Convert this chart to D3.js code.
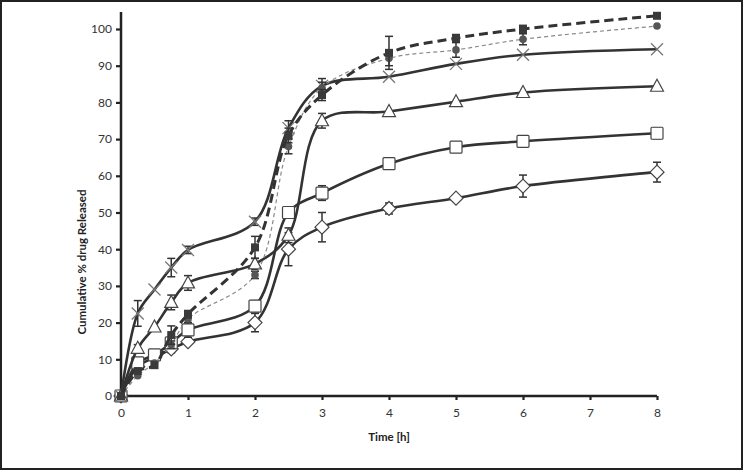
<!DOCTYPE html>
<html>
<head>
<meta charset="utf-8">
<script src="https://cdn.jsdelivr.net/npm/d3@7"></script>
<style>
  html, body { margin: 0; padding: 0; background: #fff; }
  svg { display: block; }
  text { font-family: Lato, "Open Sans", "Liberation Sans", sans-serif; }
</style>
</head>
<body>
<svg id="chart" width="744" height="471"></svg>
<script>
// ---- data ----
const times = [0, 0.25, 0.5, 0.75, 1, 2, 2.5, 3, 4, 5, 6, 8];
const xTicks = [0, 1, 2, 3, 4, 5, 6, 7, 8];
const yTicks = [0, 10, 20, 30, 40, 50, 60, 70, 80, 90, 100];

const crossVals   = [0, 22.5, 29, 35, 39.8, 47.5, 73, 84.5, 87, 90.5, 93, 94.5];
const crossErr    = [0, 3.5, 0.5, 2.5, 1, 1, 2, 2, 0.5, 0.5, 0.5, 0.5];
const triVals     = [0, 13, 18.8, 25.5, 30.8, 36, 43.8, 75, 77.5, 80.2, 82.7, 84.4];
const triErr      = [0, 1, 0.5, 2, 2, 1.5, 2, 2, 0.5, 0.5, 0.5, 0.5];
const fSqVals     = [0, 6.8, 8.4, 16.6, 22.3, 40.5, 71, 82, 93.5, 97.5, 100, 103.6];
const fSqErr      = [0, 0.5, 0.5, 2.5, 1, 3, 2, 1.5, 4.5, 1, 1, 0.5];
const circVals    = [0, 5.5, 9, 14, 21, 33, 68, 84, 92, 94.3, 97.2, 100.8];
const circErr     = [0, 0.5, 0.5, 1, 1, 1, 2, 1.5, 2, 2, 1.5, 0.5];
const oSqVals     = [0, 9, 11.2, 14.5, 18, 24.5, 50, 55.3, 63.3, 67.8, 69.4, 71.6];
const oSqErr      = [0, 1, 0.5, 1, 2, 1.5, 1, 2, 1, 0.5, 1, 1.5];
const diaVals     = [0, 8, 10.5, 12.8, 14.8, 20, 40, 46, 51.1, 53.9, 57.2, 61];
const diaErr      = [0, 0.5, 0.5, 1, 0.5, 2.5, 4.5, 4, 1.5, 0.5, 3, 2.7];

const seriesNames = ["cross", "triangle", "filledSquare", "filledCircle", "openSquare", "diamond"];
const seriesVals  = [crossVals, triVals, fSqVals, circVals, oSqVals, diaVals];
const seriesErrs  = [crossErr, triErr, fSqErr, circErr, oSqErr, diaErr];

// ---- styles ----
const styles = {
  cross:        { stroke: "#333", width: 2.6, dash: null },
  triangle:     { stroke: "#333", width: 2.6, dash: null },
  filledSquare: { stroke: "#333", width: 3,   dash: "9,5" },
  filledCircle: { stroke: "#8a8a8a", width: 1.2, dash: "4,3" },
  openSquare:   { stroke: "#333", width: 2.6, dash: null },
  diamond:      { stroke: "#333", width: 2.6, dash: null }
};

const svg = d3.select("#chart");
// outer frame
svg.append("rect").attr("x", 1).attr("y", 1).attr("width", 741).attr("height", 468)
  .attr("fill", "#fff").attr("stroke", "#222").attr("stroke-width", 2);

const x = d3.scaleLinear().domain([0, 8]).range([121, 657]);
const y = d3.scaleLinear().domain([0, 100]).range([396, 29]);

// y axis
const yAxis = d3.axisLeft(y).tickValues(yTicks).tickSize(5).tickPadding(4).tickFormat(d3.format("d"));
const gy = svg.append("g").attr("transform", `translate(${x(0)},0)`).call(yAxis);
gy.select(".domain").remove();
gy.append("line").attr("x1", 0).attr("x2", 0).attr("y1", y(0)).attr("y2", y(104.6))
  .attr("stroke", "#222").attr("stroke-width", 2.5);
gy.selectAll(".tick line").attr("stroke", "#222").attr("stroke-width", 2.2);
gy.selectAll(".tick text").attr("font-size", 12).attr("fill", "#333");

// x axis
const xAxis = d3.axisBottom(x).tickValues(xTicks).tickSize(4).tickPadding(8).tickFormat(d3.format("d"));
const gx = svg.append("g").attr("transform", `translate(0,${y(0)})`).call(xAxis);
gx.select(".domain").remove();
gx.append("line").attr("x1", x(0)).attr("x2", x(8)).attr("y1", 0).attr("y2", 0)
  .attr("stroke", "#222").attr("stroke-width", 2.5);
gx.selectAll(".tick line").attr("stroke", "#222").attr("stroke-width", 2.2);
gx.selectAll(".tick text").attr("font-size", 12).attr("fill", "#333");

// axis titles
svg.append("text").attr("x", 389).attr("y", 441).attr("text-anchor", "middle")
  .attr("font-size", 11.5).attr("font-weight", "bold").attr("fill", "#222").text("Time [h]");
svg.append("text").attr("transform", "translate(86,262) rotate(-90)").attr("text-anchor", "middle")
  .attr("font-size", 11.5).attr("font-weight", "bold").attr("fill", "#222").text("Cumulative % drug Released");

const line = d3.line().x(d => x(d[0])).y(d => y(d[1])).curve(d3.curveCatmullRom.alpha(0.5));

// draw order: bottom first
const order = [5, 4, 1, 0, 3, 2];

order.forEach(i => {
  const name = seriesNames[i];
  const st = styles[name];
  const pts = times.map((t, k) => [t, seriesVals[i][k], seriesErrs[i][k]]);
  const g = svg.append("g").attr("class", "series-" + name);
  g.append("path").datum(pts).attr("d", line).attr("fill", "none")
    .attr("stroke", st.stroke).attr("stroke-width", st.width)
    .attr("stroke-dasharray", st.dash);
  // error bars
  const eb = g.selectAll(".eb").data(pts.filter(p => p[2] > 0.6)).enter().append("g");
  eb.append("line").attr("x1", d => x(d[0])).attr("x2", d => x(d[0]))
    .attr("y1", d => y(d[1] - d[2])).attr("y2", d => y(d[1] + d[2]))
    .attr("stroke", "#333").attr("stroke-width", 1.5);
  [1, -1].forEach(s => {
    eb.append("line").attr("x1", d => x(d[0]) - 4).attr("x2", d => x(d[0]) + 4)
      .attr("y1", d => y(d[1] + s * d[2])).attr("y2", d => y(d[1] + s * d[2]))
      .attr("stroke", "#333").attr("stroke-width", 1.5);
  });
  // markers
  const m = g.selectAll(".m").data(pts).enter().append("g")
    .attr("transform", d => `translate(${x(d[0])},${y(d[1])})`);
  if (name === "cross") {
    m.append("path").attr("d", "M-6,-6L6,6M-6,6L6,-6").attr("stroke", "#777").attr("stroke-width", 1.3);
  } else if (name === "triangle") {
    m.append("path").attr("d", "M0,-7L6.5,5L-6.5,5Z").attr("fill", "#fff").attr("stroke", "#444").attr("stroke-width", 1.2);
  } else if (name === "filledSquare") {
    m.append("rect").attr("x", -4).attr("y", -4).attr("width", 8).attr("height", 8).attr("fill", "#3a3a3a");
  } else if (name === "filledCircle") {
    m.append("circle").attr("r", 3.8).attr("fill", "#555");
  } else if (name === "openSquare") {
    m.append("rect").attr("x", -6).attr("y", -6).attr("width", 12).attr("height", 12).attr("rx", 1)
      .attr("fill", "#fff").attr("stroke", "#444").attr("stroke-width", 1.2);
  } else if (name === "diamond") {
    m.append("path").attr("d", "M0,-7L7,0L0,7L-7,0Z").attr("fill", "#fff").attr("stroke", "#444").attr("stroke-width", 1.2);
  }
});
</script>
</body>
</html>
